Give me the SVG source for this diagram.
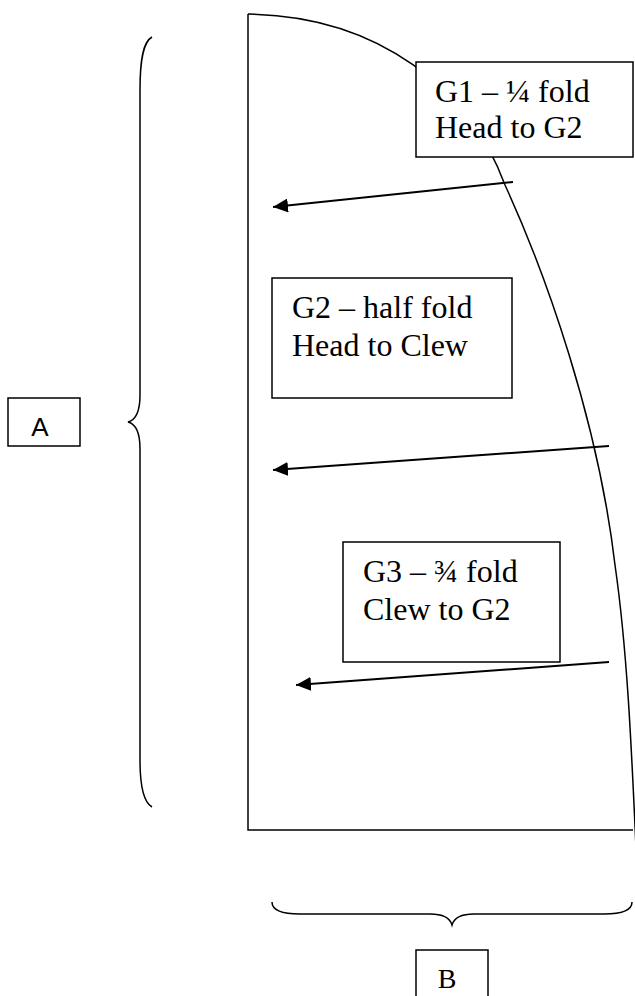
<svg xmlns="http://www.w3.org/2000/svg" width="635" height="996" viewBox="0 0 635 996">
<style>
.ln{fill:none;stroke:#000;stroke-width:1.5}
.box{fill:#fff;stroke:#000;stroke-width:1.5}
.ar{fill:none;stroke:#000;stroke-width:2;marker-end:url(#ah)}
.t{font-family:"Liberation Serif","Times New Roman",serif;font-size:32px;fill:#000}
.s{font-family:"Liberation Sans",Arial,sans-serif;font-size:26px;fill:#000}
</style>
<defs>
<marker id="ah" markerUnits="userSpaceOnUse" markerWidth="16" markerHeight="14" refX="15" refY="7" orient="auto">
<path d="M0,0 L15,7 L0,14 Z" fill="#000"/>
</marker>
<clipPath id="bclip"><rect x="0" y="0" width="635" height="988"/></clipPath>
</defs>
<rect width="635" height="996" fill="#fff"/>
<g id="sail">
<path class="ln" d="M248,14 L248,830 L633,830"/>
<path class="ln" d="M248,14 C380,16 470,90 505,185 C545,272 598,420 615,565 C628,655 632,760 637,870"/>
</g>
<g id="braceA">
<path class="ln" d="M152,37 C143,42 140,60 140,90 L140,395 C140,410 136,420 128,422 C136,424 140,434 140,449 L140,760 C140,785 143,802 152,807"/>
</g>
<g id="braceB">
<path class="ln" d="M272,902 C272,910 282,914 300,914 L430,914 C442,914 450,918 452,925 C454,918 462,914 474,914 L604,914 C622,914 632,910 632,902"/>
</g>
<g id="connectors">
<line class="ar" x1="513" y1="182" x2="273" y2="207"/>
<line class="ar" x1="609" y1="446" x2="273" y2="470"/>
<line class="ar" x1="609" y1="662" x2="296" y2="685"/>
</g>
<g id="G1">
<rect class="box" x="416" y="62" width="217" height="95"/>
<text class="t" x="435" y="102">G1 – ¼ fold</text>
<text class="t" x="435" y="138">Head to G2</text>
</g>
<g id="G2">
<rect class="box" x="272" y="278" width="240" height="120"/>
<text class="t" x="292" y="318">G2 – half fold</text>
<text class="t" x="292" y="356">Head to Clew</text>
</g>
<g id="G3">
<rect class="box" x="343" y="542" width="217" height="120"/>
<text class="t" x="363" y="582">G3 – ¾ fold</text>
<text class="t" x="363" y="620">Clew to G2</text>
</g>
<g id="A">
<rect class="box" x="8" y="398" width="72" height="48"/>
<text class="s" x="40" y="436" text-anchor="middle">A</text>
</g>
<g id="B">
<rect class="box" x="416" y="950" width="72" height="60"/>
<text class="t" x="447" y="988" text-anchor="middle" style="font-size:28px" clip-path="url(#bclip)">B</text>
</g>
</svg>
